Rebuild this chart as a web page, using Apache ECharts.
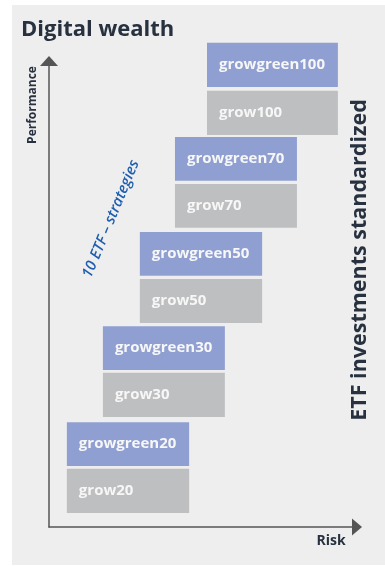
<!DOCTYPE html>
<html>
<head>
<meta charset="utf-8">
<style>
html,body{margin:0;padding:0;background:#ffffff;}
#chart{width:385px;height:566px;}
</style>
<script src="https://cdn.jsdelivr.net/npm/echarts@6/dist/echarts.min.js"></script>
</head>
<body>
<div id="chart"></div>
<script>
// Strategy data (risk on x, performance on y, abstract 0-100 units)
const strategies = ['20', '30', '50', '70', '100'];
const growLabels = ['grow20', 'grow30', 'grow50', 'grow70', 'grow100'];
const greenLabels = ['growgreen20', 'growgreen30', 'growgreen50', 'growgreen70', 'growgreen100'];
const riskFrom = [5.8, 17.5, 29.5, 40.9, 51.3];
const riskTo = [45.5, 57.1, 69.2, 80.5, 93.8];
const growPerfFrom = [3.0, 23.6, 43.8, 64.2, 84.1];
const growPerfTo = [12.5, 33.1, 53.2, 73.6, 93.6];
const greenPerfFrom = [13.1, 33.7, 53.9, 74.3, 94.4];
const greenPerfTo = [22.5, 43.1, 63.3, 83.7, 103.9];

const titleText = 'Digital wealth';
const yAxisName = 'Performance';
const xAxisName = 'Risk';
const sideText = 'ETF investments standardized';
const noteText = '10 ETF \u2013 strategies';

const FONT = '"Open Sans", "Noto Sans", sans-serif';
const DARK = '#27313f';

function boxes(labels, from, to) {
  return labels.map((l, i) => [riskFrom[i], riskTo[i], from[i], to[i], l]);
}

function renderBox(color) {
  return function (params, api) {
    const p0 = api.coord([api.value(0), api.value(3)]);
    const p1 = api.coord([api.value(1), api.value(2)]);
    const w = p1[0] - p0[0];
    const h = p1[1] - p0[1];
    return {
      type: 'group',
      children: [
        { type: 'rect', shape: { x: p0[0], y: p0[1], width: w, height: h }, style: { fill: color } },
        { type: 'text', x: p0[0] + 12, y: p0[1] + h / 2,
          style: { text: api.value(4), fill: '#f7f7f7', font: 'bold 15px ' + FONT,
                   verticalAlign: 'middle', align: 'left' } }
      ]
    };
  };
}

const chart = echarts.init(document.getElementById('chart'), null, { renderer: 'canvas' });
chart.setOption({
  backgroundColor: '#ffffff',
  animation: false,
  title: {
    text: titleText, left: 21, top: 19, padding: 0,
    textStyle: { fontFamily: FONT, fontWeight: 'bold', fontSize: 22, color: DARK }
  },
  grid: { left: 49, right: 28, top: 61, bottom: 39 },
  xAxis: {
    type: 'value', min: 0, max: 100,
    axisLine: { show: true, symbol: ['none', 'triangle'], symbolSize: [17, 10],
                lineStyle: { color: '#555555', width: 1.5 } },
    axisTick: { show: false }, axisLabel: { show: false }, splitLine: { show: false }
  },
  yAxis: {
    type: 'value', min: 0, max: 100,
    axisLine: { show: true, symbol: ['none', 'triangle'], symbolSize: [18, 10],
                lineStyle: { color: '#555555', width: 1.5 } },
    axisTick: { show: false }, axisLabel: { show: false }, splitLine: { show: false }
  },
  graphic: [
    { type: 'rect', z: -100, silent: true, shape: { x: 12, y: 5, width: 373, height: 560 },
      style: { fill: '#eeeeee' } },
    { type: 'text', x: 33, y: 105, rotation: Math.PI / 2,
      style: { text: yAxisName, font: 'bold 12px ' + FONT, fill: DARK, align: 'center', verticalAlign: 'middle' } },
    { type: 'text', x: 331, y: 541,
      style: { text: xAxisName, font: 'bold 14px ' + FONT, fill: DARK, align: 'center', verticalAlign: 'middle' } },
    { type: 'text', x: 360, y: 260, rotation: Math.PI / 2,
      style: { text: sideText, font: 'bold 21.5px ' + FONT, fill: DARK, align: 'center', verticalAlign: 'middle' } },
    { type: 'text', x: 111, y: 219, rotation: 67.5 * Math.PI / 180,
      style: { text: noteText, font: 'italic 600 15px ' + FONT, fill: '#1e5fb0', align: 'center', verticalAlign: 'middle' } }
  ],
  series: [
    { type: 'custom', name: 'grow', clip: false, renderItem: renderBox('#bebfc1'),
      encode: { x: [0, 1], y: [2, 3] }, data: boxes(growLabels, growPerfFrom, growPerfTo) },
    { type: 'custom', name: 'growgreen', clip: false, renderItem: renderBox('#8f9fd1'),
      encode: { x: [0, 1], y: [2, 3] }, data: boxes(greenLabels, greenPerfFrom, greenPerfTo) }
  ]
});
</script>
</body>
</html>
